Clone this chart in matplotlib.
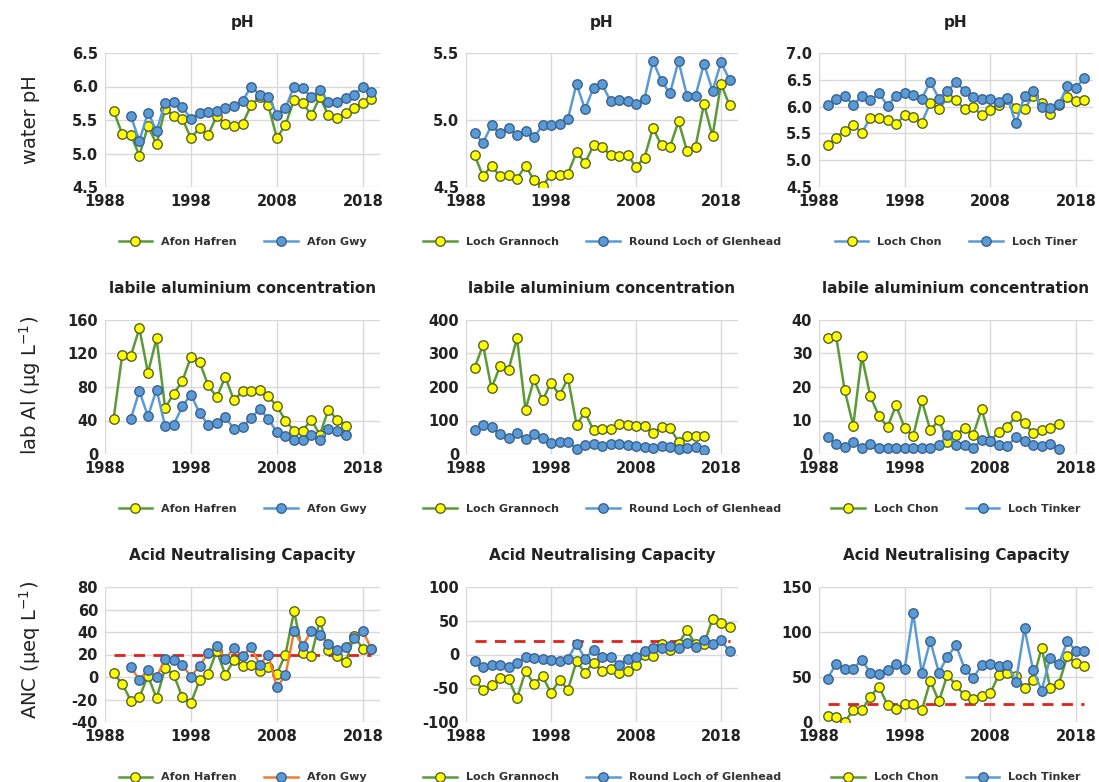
import numpy as np
import matplotlib
matplotlib.use("Agg")
import matplotlib.pyplot as plt

# years
yrs_all = list(range(1989, 2020))
yrs_gwy = list(range(1991, 2020))
yrs_al = list(range(1989, 2017))
yrs_al_gwy = list(range(1991, 2017))

# pH
ph_hafren = [5.64, 5.29, 5.28, 4.97, 5.41, 5.14, 5.67, 5.56, 5.52, 5.23,
             5.38, 5.28, 5.56, 5.44, 5.41, 5.44, 5.72, 5.84, 5.72, 5.23,
             5.43, 5.80, 5.76, 5.57, 5.84, 5.57, 5.53, 5.60, 5.68, 5.75, 5.82]
ph_gwy = [5.56, 5.19, 5.61, 5.34, 5.76, 5.77, 5.69, 5.52,
          5.61, 5.62, 5.63, 5.68, 5.71, 5.78, 6.00, 5.88, 5.85, 5.58,
          5.68, 6.00, 5.98, 5.84, 5.95, 5.77, 5.77, 5.83, 5.88, 5.99, 5.92]
ph_grannoch = [4.74, 4.58, 4.66, 4.58, 4.59, 4.56, 4.66, 4.55, 4.51, 4.59,
               4.59, 4.60, 4.76, 4.68, 4.81, 4.80, 4.74, 4.73, 4.74, 4.65,
               4.72, 4.94, 4.81, 4.80, 4.99, 4.77, 4.80, 5.12, 4.88, 5.27, 5.11]
ph_rlgh = [4.90, 4.83, 4.96, 4.90, 4.94, 4.89, 4.92, 4.87, 4.96, 4.96,
           4.97, 5.01, 5.27, 5.08, 5.24, 5.27, 5.14, 5.15, 5.14, 5.12,
           5.16, 5.44, 5.29, 5.20, 5.44, 5.18, 5.18, 5.42, 5.22, 5.43, 5.30]
ph_chon = [5.28, 5.42, 5.55, 5.66, 5.51, 5.79, 5.79, 5.75, 5.67, 5.84,
           5.80, 5.70, 6.07, 5.95, 6.17, 6.12, 5.95, 5.99, 5.84, 5.93,
           6.03, 6.15, 5.98, 5.96, 6.20, 6.06, 5.86, 6.03, 6.17, 6.11, 6.12]
ph_tiner = [6.03, 6.15, 6.20, 6.03, 6.19, 6.12, 6.25, 6.02, 6.20, 6.25,
            6.21, 6.15, 6.46, 6.15, 6.29, 6.45, 6.30, 6.18, 6.15, 6.15,
            6.09, 6.16, 5.69, 6.20, 6.29, 5.99, 5.98, 6.04, 6.38, 6.35, 6.54]

# labile aluminium
al_hafren = [42, 118, 117, 150, 97, 138, 55, 72, 87, 116,
             110, 82, 68, 92, 64, 75, 75, 77, 69, 57,
             40, 28, 28, 41, 23, 53, 41, 34]
al_gwy = [42, 75, 45, 77, 33, 35, 57, 71,
          49, 35, 37, 44, 30, 32, 43, 54, 42, 26,
          22, 17, 17, 23, 17, 30, 28, 23]
al_grannoch = [256, 326, 196, 262, 251, 346, 132, 223, 160, 212,
               176, 226, 88, 124, 71, 75, 76, 90, 87, 83,
               84, 62, 81, 78, 36, 55, 53, 53]
al_rlgh = [71, 88, 81, 59, 49, 62, 45, 59, 49, 34,
           36, 36, 16, 27, 31, 23, 31, 29, 27, 25,
           22, 18, 25, 20, 14, 18, 20, 12]
al_chon = [34.6, 35.2, 19.0, 8.5, 29.2, 17.2, 11.3, 8.1, 14.5, 7.8,
           5.4, 16.0, 7.1, 10.1, 3.5, 5.8, 7.7, 5.7, 13.4, 3.8,
           6.7, 8.1, 11.4, 9.2, 6.2, 7.2, 7.8, 9.0]
al_tinker = [5.0, 3.1, 2.0, 3.7, 1.9, 2.9, 1.9, 1.9, 1.9, 1.9,
             1.9, 1.9, 1.9, 2.6, 5.8, 2.6, 2.7, 1.9, 4.1, 3.9,
             2.6, 2.5, 5.0, 3.8, 2.6, 2.4, 2.9, 1.6]

# ANC
anc_hafren = [3.3, -6, -21, -18, 1.2, -19, 8, 2, -18, -23,
              -3, 3, 23, 2, 15, 10, 11, 5, 9, 3,
              20, 58.5, 21.6, 18.6, 50, 24, 19, 13, 36.6, 25, 25]
anc_gwy = [8.7, -2.4, 6.3, -0.3, 16.2, 15, 10.8, 0.3,
           10, 21, 28, 16, 26, 18.3, 26.7, 10.8, 20, -9.3,
           1.5, 40.8, 27.6, 41, 37.5, 29, 24, 27, 34.5, 41, 25]
anc_grannoch = [-38, -52, -45, -35, -36, -65, -25, -43, -32, -57,
                -38, -52, -10, -27, -12, -24, -21, -28, -25, -15,
                0, -2, 15, 6, 16, 36, 15, 15, 53, 46, 41]
anc_rlgh = [-10, -19, -16, -16, -18, -13, -3, -5, -6, -8,
            -10, -6, 16, -6, 7, -4, -4, -15, -6, -3,
            5, 10, 9, 12, 10, 17, 11, 21, 15, 21, 5]
anc_chon = [6.4, 5.3, 0, 13.2, 13.2, 28.3, 39.3, 18.9, 14, 20.4,
            20.4, 12.8, 45.7, 23, 52.5, 40.8, 29.5, 26, 28.7, 31.7,
            52.5, 54.4, 51, 37.8, 46.5, 82.4, 38.2, 42.3, 73, 65.7, 62]
anc_tinker = [48, 65, 59.3, 59.3, 69, 55, 53.6, 58, 65, 58.6,
              121, 54.8, 90, 55, 72.5, 85.4, 59.3, 49, 63, 65,
              62, 63, 45, 104, 58, 35, 71, 64, 90, 79, 79]

anc_limit = 20
limit_years = [1989, 2019]
xticks = [1988, 1998, 2008, 2018]

GREEN = "#5b9a37"
BLUE = "#5b9bd5"
ORANGE = "#ed7d31"
YELLOW = "#ffff00"
YEDGE = "#55602a"
BEDGE = "#3a6190"

W, H = 1099, 782
fig = plt.figure(figsize=(W / 100, H / 100), dpi=100)

cols = [(105, 380), (466, 738), (819, 1093)]
rows = [(53, 187), (320, 454), (587, 722)]


def make_ax(r, c):
    l, rr = cols[c]
    t, b = rows[r]
    return fig.add_axes([l / W, 1 - b / H, (rr - l) / W, (b - t) / H])


def panel(r, c, title, s1, s2, yt, fmt, c1=GREEN, c2=BLUE, limit=False):
    ax = make_ax(r, c)
    ax.plot(s1[0], s1[1], color=c1, lw=1.8, marker="o", ms=6.8,
            mfc=YELLOW, mec=YEDGE, mew=1, label=s1[2], zorder=3)
    ax.plot(s2[0], s2[1], color=c2, lw=1.8, marker="o", ms=6.8,
            mfc=BLUE, mec=BEDGE, mew=1, label=s2[2], zorder=3)
    if limit:
        ax.plot(limit_years, [anc_limit, anc_limit], color="#e2211c",
                lw=2, ls=(0, (4, 3)), zorder=2)
    ax.set_xlim(1988, 2020)
    ax.set_ylim(yt[0], yt[-1])
    ax.set_xticks(xticks)
    ax.set_yticks(yt)
    ax.set_yticklabels([fmt % v for v in yt])
    ax.grid(True, color="#d9d9d9", lw=1)
    ax.set_axisbelow(True)
    for s in ax.spines.values():
        s.set_visible(False)
    ax.tick_params(length=0, labelsize=10.5, pad=5, colors="#222222")
    for lab in ax.get_xticklabels() + ax.get_yticklabels():
        lab.set_fontweight("bold")
    ax.text(0.5, 1 + 31 / 134, title, transform=ax.transAxes, ha="center",
            va="center", fontsize=11, fontweight="bold", color="#222222")
    ax.legend(loc="center", bbox_to_anchor=(0.5, -55 / 134), ncol=2,
              frameon=False, handlelength=3, columnspacing=2.5,
              prop={"size": 8, "weight": "bold"}, labelcolor="#333333")
    return ax


ph_t = "pH"
al_t = "labile aluminium concentration"
anc_t = "Acid Neutralising Capacity"

panel(0, 0, ph_t, (yrs_all, ph_hafren, "Afon Hafren"), (yrs_gwy, ph_gwy, "Afon Gwy"),
      [4.5, 5.0, 5.5, 6.0, 6.5], "%.1f")
panel(0, 1, ph_t, (yrs_all, ph_grannoch, "Loch Grannoch"),
      (yrs_all, ph_rlgh, "Round Loch of Glenhead"), [4.5, 5.0, 5.5], "%.1f")
panel(0, 2, ph_t, (yrs_all, ph_chon, "Loch Chon"), (yrs_all, ph_tiner, "Loch Tiner"),
      [4.5, 5.0, 5.5, 6.0, 6.5, 7.0], "%.1f", c1=BLUE)

panel(1, 0, al_t, (yrs_al, al_hafren, "Afon Hafren"), (yrs_al_gwy, al_gwy, "Afon Gwy"),
      [0, 40, 80, 120, 160], "%d")
panel(1, 1, al_t, (yrs_al, al_grannoch, "Loch Grannoch"),
      (yrs_al, al_rlgh, "Round Loch of Glenhead"), [0, 100, 200, 300, 400], "%d")
panel(1, 2, al_t, (yrs_al, al_chon, "Loch Chon"), (yrs_al, al_tinker, "Loch Tinker"),
      [0, 10, 20, 30, 40], "%d")

panel(2, 0, anc_t, (yrs_all, anc_hafren, "Afon Hafren"), (yrs_gwy, anc_gwy, "Afon Gwy"),
      [-40, -20, 0, 20, 40, 60, 80], "%d", c2=ORANGE, limit=True)
panel(2, 1, anc_t, (yrs_all, anc_grannoch, "Loch Grannoch"),
      (yrs_all, anc_rlgh, "Round Loch of Glenhead"), [-100, -50, 0, 50, 100], "%d",
      limit=True)
panel(2, 2, anc_t, (yrs_all, anc_chon, "Loch Chon"), (yrs_all, anc_tinker, "Loch Tinker"),
      [0, 50, 100, 150], "%d", limit=True)

fig.text(30 / W, 1 - 120 / H, "water pH", rotation=90, ha="center", va="center",
         fontsize=14, color="#222222")
fig.text(30 / W, 1 - 385 / H, "lab Al (µg L$^{-1}$)", rotation=90, ha="center",
         va="center", fontsize=14, color="#222222")
fig.text(30 / W, 1 - 650 / H, "ANC (µeq L$^{-1}$)", rotation=90, ha="center",
         va="center", fontsize=14, color="#222222")

fig.savefig("out.png", dpi=100)
